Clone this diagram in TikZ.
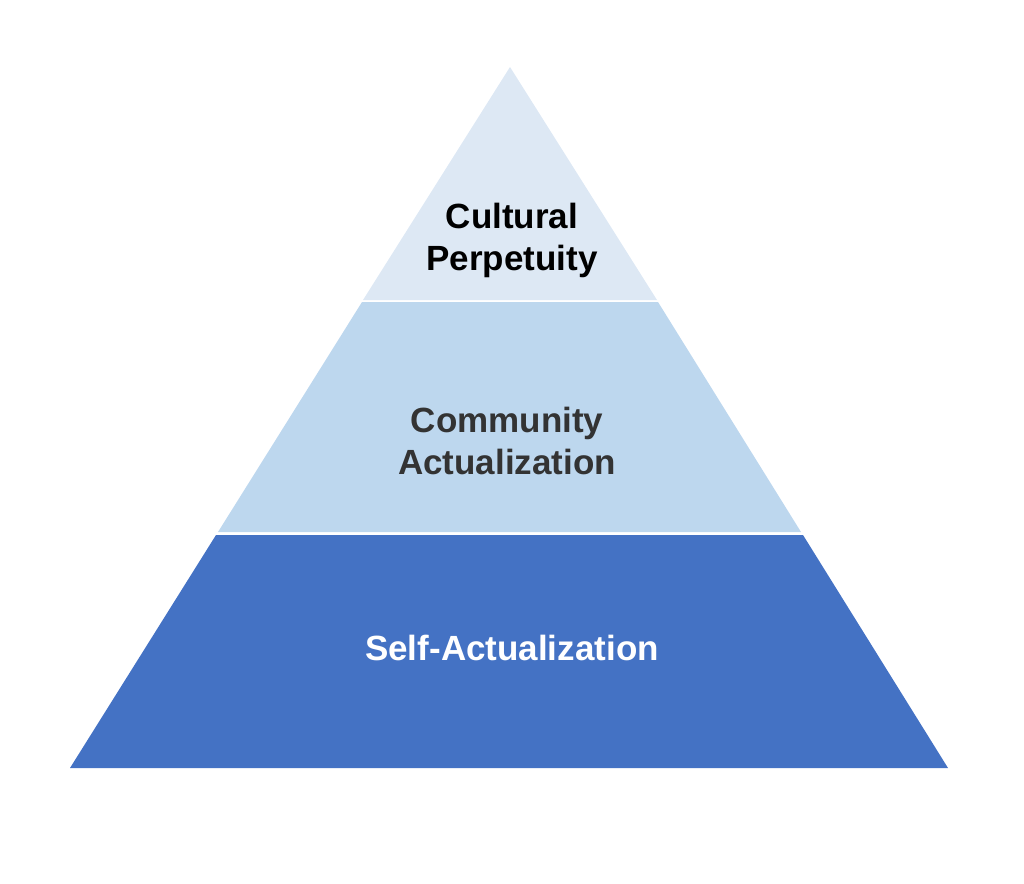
\documentclass[tikz,border=0pt]{standalone}
\usepackage{fontspec}
\setmainfont{Liberation Sans}
\definecolor{ctop}{HTML}{DDE8F4}
\definecolor{cmid}{HTML}{BDD7EE}
\definecolor{cbot}{HTML}{4472C4}
\definecolor{tmid}{HTML}{333333}
\begin{document}
\begin{tikzpicture}[x=1pt,y=-1pt,lbl/.style={font=\fontsize{35}{42}\selectfont\bfseries, align=center}]
\useasboundingbox (0,0) rectangle (1024,883);
\fill[ctop] (510,67) -- (363,300) -- (657,300) -- cycle;
\fill[cmid] (362,302) -- (658,302) -- (801,532) -- (218,532) -- cycle;
\fill[cbot] (216,535) -- (803,535) -- (948,768) -- (70,768) -- cycle;
\node[lbl, text=black] (top) at (512,240) {Cultural\\Perpetuity};
\node[lbl, text=tmid] (mid) at (507,441) {Community\\Actualization};
\node[lbl, text=white] (bot) at (512,648) {Self-Actualization};
\end{tikzpicture}
\end{document}
